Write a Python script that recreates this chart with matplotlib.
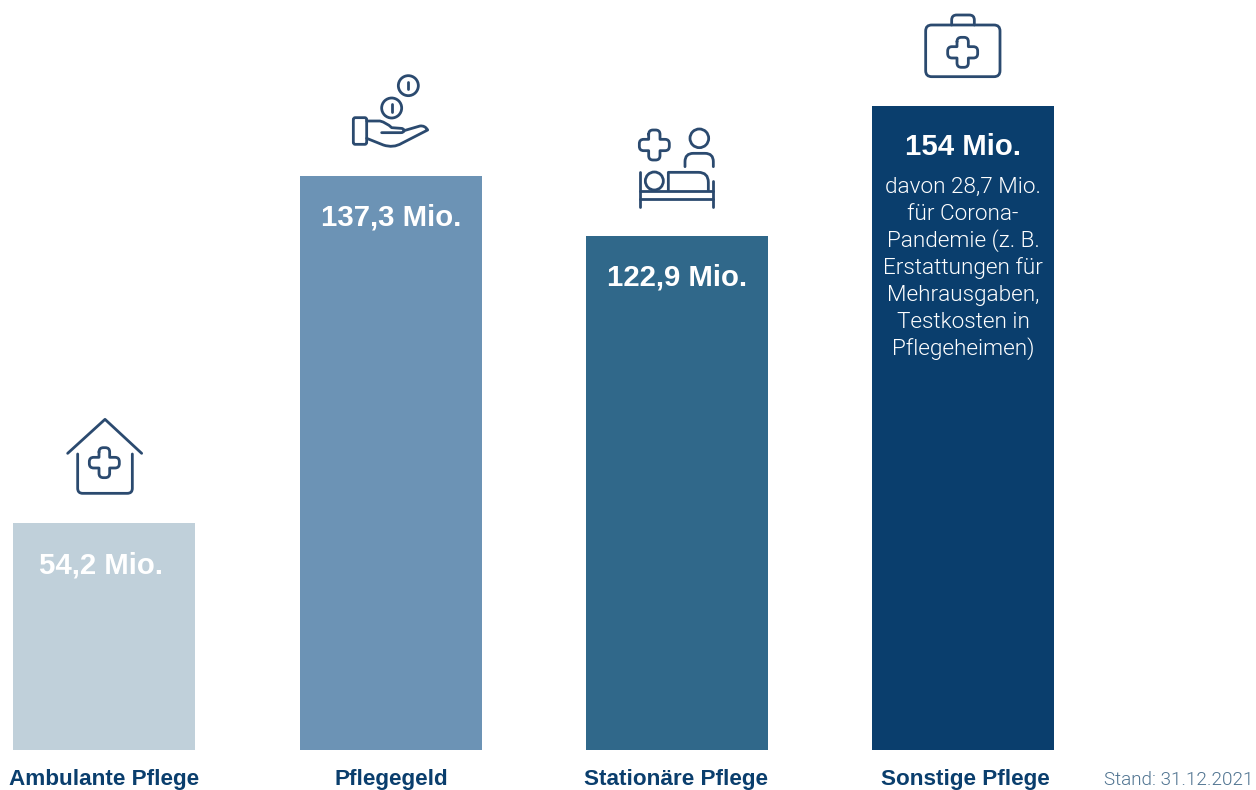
import matplotlib
matplotlib.use("Agg")
import matplotlib.pyplot as plt
from matplotlib.path import Path
from matplotlib.patches import PathPatch, Circle, FancyBboxPatch

categories = ["Ambulante Pflege", "Pflegegeld", "Stationäre Pflege", "Sonstige Pflege"]
values = [54.2, 137.3, 122.9, 154.0]
value_labels = ["54,2 Mio.", "137,3 Mio.", "122,9 Mio.", "154 Mio."]
bar_colors = ["#c0d0da", "#6c93b5", "#30688a", "#0a3e6d"]
note_lines = ["davon 28,7 Mio.", "für Corona-", "Pandemie (z. B.", "Erstattungen für",
              "Mehrausgaben,", "Testkosten in", "Pflegeheimen)"]
stand = "Stand: 31.12.2021"

W, H = 1256, 790
NAVY = "#0a3e6d"
ICON = "#2b4a6f"
plt.rcParams["font.family"] = ["Liberation Sans", "DejaVu Sans"]
fig = plt.figure(figsize=(W / 100, H / 100), dpi=100, facecolor="white")

# bar axes: x in image pixels, value 0 at y=750 and 154 at y=106
bar_centers = [104, 391, 677, 963]
ax = fig.add_axes([0, (H - 750) / H, 1, (750 - 106) / H])
ax.set_xlim(0, W)
ax.set_ylim(0, 154)
ax.axis("off")
ax.bar(bar_centers, values, width=182, color=bar_colors, linewidth=0)

# overlay in image pixels for text and pictograms
ov = fig.add_axes([0, 0, 1, 1])
ov.set_xlim(0, W)
ov.set_ylim(H, 0)
ov.axis("off")
ov.patch.set_alpha(0)

label_y = [565, 217, 277, 147]
label_x = [101, 391, 677, 963]
for x, y, t in zip(label_x, label_y, value_labels):
    ov.text(x, y, t, color="white", fontsize=21.2, fontweight="bold", ha="center", va="center")
for i, t in enumerate(note_lines):
    ov.text(963, 187 + 27 * i, t, color="white", fontsize=16.2, family=["Roboto", "Liberation Sans"],
            fontweight=300, ha="center", va="center")
cat_x = [104, 391, 676, 965]
for x, t in zip(cat_x, categories):
    ov.text(x, 779.5, t, color=NAVY, fontsize=16.2, fontweight="bold", ha="center", va="center")
ov.text(1253, 780, stand, color="#4f7390", fontsize=13.6, family=["Roboto", "Liberation Sans"],
        fontweight=300, ha="right", va="center")

LW = 2.0
def stroke(path_pts, codes=None):
    ov.add_patch(PathPatch(Path(path_pts, codes), fill=False, edgecolor=ICON, lw=LW,
                           capstyle="round", joinstyle="round"))

def to_px(ox, oy, pts):
    return [(ox + a / 3, oy + b / 3) for a, b in pts]

def line(ox, oy, pts):
    stroke(to_px(ox, oy, pts))

def curve(ox, oy, pts, codes):
    stroke(to_px(ox, oy, pts), codes)

def circle(ox, oy, cx, cy, r):
    ov.add_patch(Circle((ox + cx / 3, oy + cy / 3), r / 3, fill=False, edgecolor=ICON, lw=LW))

def rrect(ox, oy, x1, y1, x2, y2, r):
    ov.add_patch(FancyBboxPatch((ox + (x1 + r) / 3, oy + (y1 + r) / 3), (x2 - x1 - 2 * r) / 3,
                                (y2 - y1 - 2 * r) / 3, boxstyle=f"round,pad={r / 3},rounding_size={r / 3}",
                                fill=False, edgecolor=ICON, lw=LW))

def cross(ox, oy, cx, cy, h, a):
    r = 13
    M, L, Q = Path.MOVETO, Path.LINETO, Path.CURVE3
    q = [(cx - a, cy - h + r), (cx - a, cy - h), (cx - a + r, cy - h), (cx + a - r, cy - h), (cx + a, cy - h), (cx + a, cy - h + r),
         (cx + a, cy - a), (cx + h - r, cy - a), (cx + h, cy - a), (cx + h, cy - a + r), (cx + h, cy + a - r), (cx + h, cy + a), (cx + h - r, cy + a),
         (cx + a, cy + a), (cx + a, cy + h - r), (cx + a, cy + h), (cx + a - r, cy + h), (cx - a + r, cy + h), (cx - a, cy + h), (cx - a, cy + h - r),
         (cx - a, cy + a), (cx - h + r, cy + a), (cx - h, cy + a), (cx - h, cy + a - r), (cx - h, cy - a + r), (cx - h, cy - a), (cx - h + r, cy - a),
         (cx - a, cy - a), (cx - a, cy - h + r)]
    codes = [M, Q, Q, L, Q, Q, L, L, Q, Q, L, Q, Q, L, L, Q, Q, L, Q, Q, L, L, Q, Q, L, Q, Q, L, L]
    curve(ox, oy, q, codes)

M, L, Q = Path.MOVETO, Path.LINETO, Path.CURVE3

# house
o = (55, 410)
line(*o, [(38, 130), (150, 28), (260, 130)])
curve(*o, [(68, 132), (68, 235), (68, 250), (83, 250), (217, 250), (232, 250), (232, 235), (232, 132)],
      [M, L, Q, Q, L, Q, Q, L])
cross(*o, 148, 158, 45, 16)

# hand and coins
o = (330, 60)
circle(*o, 235, 77, 30)
circle(*o, 185, 144, 30)
line(*o, [(235, 66), (235, 88)])
line(*o, [(185, 133), (185, 155)])
rrect(*o, 70, 173, 110, 253, 6)
curve(*o, [(110, 183), (150, 183), (170, 188), (185, 203), (212, 205), (222, 205), (222, 212), (222, 218), (212, 218), (155, 218)],
      [M, L, Q, Q, L, Q, Q, Q, Q, L])
curve(*o, [(222, 212), (270, 198), (285, 196), (293, 210), (215, 250), (190, 265), (160, 255), (110, 235)],
      [M, L, Q, Q, L, Q, Q, L])

# bed
o = (620, 115)
cross(*o, 103, 90, 45, 17)
circle(*o, 238, 70, 28)
curve(*o, [(195, 155), (195, 140), (195, 115), (220, 115), (255, 115), (280, 115), (280, 140), (280, 155)],
      [M, L, Q, Q, L, Q, Q, L])
line(*o, [(60, 172), (60, 275)])
line(*o, [(279, 197), (279, 275)])
line(*o, [(60, 228), (279, 228)])
line(*o, [(60, 252), (279, 252)])
circle(*o, 103, 198, 27)
curve(*o, [(145, 225), (145, 172), (235, 172), (265, 172), (265, 202), (265, 225)], [M, L, L, Q, Q, L])

# medical kit
o = (910, 5)
rrect(*o, 47, 60, 270, 215, 18)
curve(*o, [(125, 60), (125, 45), (125, 30), (140, 30), (178, 30), (193, 30), (193, 45), (193, 60)],
      [M, L, Q, Q, L, Q, Q, L])
cross(*o, 158, 142, 45, 17)

fig.savefig("out.png", dpi=100, facecolor="white")
